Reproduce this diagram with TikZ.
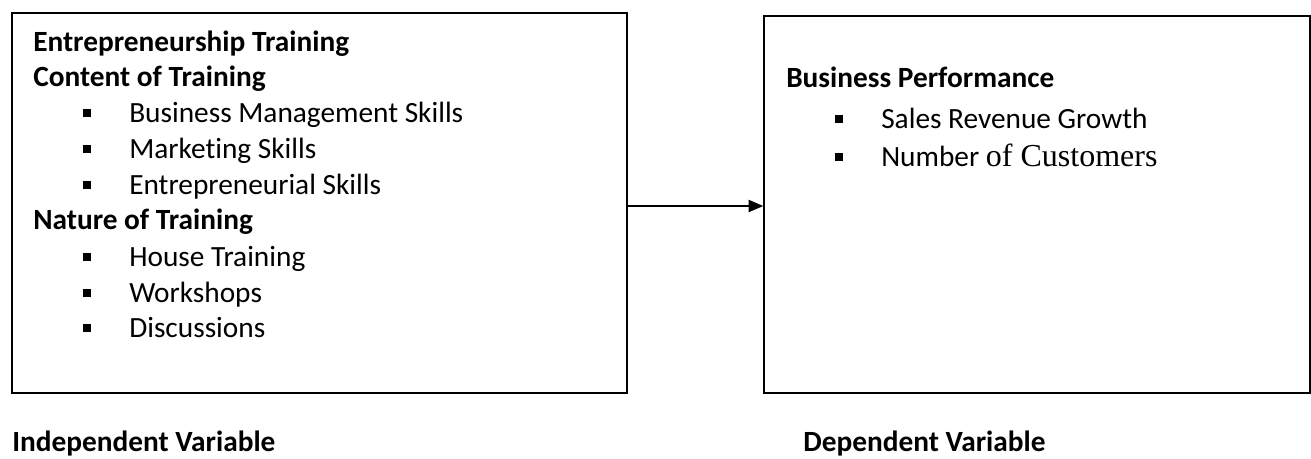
\documentclass[tikz,border=0pt]{standalone}
\usepackage{fontspec}
\usetikzlibrary{arrows.meta}
\setmainfont{Carlito}[Ligatures=NoCommon]
\newfontfamily\timesfont{Liberation Serif}
\newcommand{\sqbullet}{\llap{\rule[4pt]{6pt}{6pt}\hspace{29pt}}}

\begin{document}
\begin{tikzpicture}[x=0.75pt,y=-0.75pt,>={Triangle[length=11pt,width=9pt]},
  every node/.style={font=\fontsize{22}{26}\selectfont,inner sep=0pt},
  varbox/.style={draw,line width=1pt,rectangle},
  head/.style={anchor=base west,font=\fontsize{22}{26}\selectfont\bfseries},
  item/.style={anchor=base west}]
  \useasboundingbox (0,0) rectangle (1311,458);
  % the two boxes
  \node[varbox,minimum width=615*0.75pt,minimum height=380*0.75pt] (indep) at (319.5,203) {};
  \node[varbox,minimum width=546*0.75pt,minimum height=377*0.75pt] (dep) at (1037,204.5) {};
  \draw[->,line width=1.5pt] ([yshift=-2.25pt]indep.east) -- ([yshift=-2.25pt]indep.east -| dep.west);
  % independent side
  \node[head] (et) at (33,51) {Entrepreneurship Training};
  \node[head] (ct) at (33,86) {Content of Training};
  \node[item] (bms) at (129,122) {\sqbullet Business Management Skills};
  \node[item] (ms) at (129,158) {\sqbullet Marketing Skills};
  \node[item] (es) at (129,194) {\sqbullet Entrepreneurial Skills};
  \node[head] (nt) at (33,229) {Nature of Training};
  \node[item] (ht) at (129,266) {\sqbullet House Training};
  \node[item] (ws) at (129,302) {\sqbullet Workshops};
  \node[item] (dc) at (129,337) {\sqbullet Discussions};
  % dependent side
  \node[head] (bp) at (786,87) {Business Performance};
  \node[item] (srg) at (881,128) {\sqbullet Sales Revenue Growth};
  \node[item] (nc) at (881,166) {\sqbullet Number {\timesfont\fontsize{24}{28}\selectfont of Customers}};
  % captions
  \node[head] (iv) at (12,451) {Independent Variable};
  \node[head] (dv) at (803,451) {Dependent Variable};
\end{tikzpicture}
\end{document}
